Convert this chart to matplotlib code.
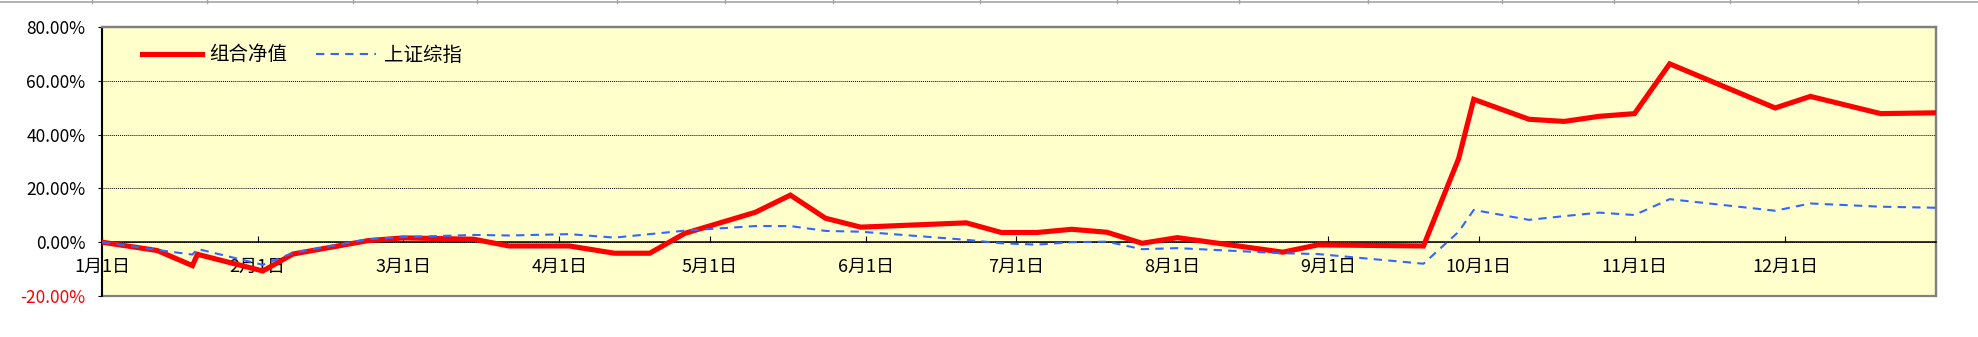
import matplotlib
matplotlib.use("Agg")
from matplotlib import pyplot as plt
from matplotlib.lines import Line2D
from matplotlib.patches import Rectangle
import matplotlib.dates as mdates
import matplotlib.ticker as mticker
import pandas as pd

plt.rcParams['font.family'] = ['Noto Sans CJK SC', 'DejaVu Sans']

# weekly observations, 2024 (percent return since start of year)
dates = ['2024-01-01', '2024-01-12', '2024-01-19', '2024-01-20', '2024-02-02',
         '2024-02-08', '2024-02-23', '2024-03-01', '2024-03-15', '2024-03-22',
         '2024-04-03', '2024-04-12', '2024-04-19', '2024-04-26', '2024-05-10',
         '2024-05-17', '2024-05-24', '2024-05-31', '2024-06-21', '2024-06-28',
         '2024-07-05', '2024-07-12', '2024-07-19', '2024-07-26', '2024-08-02',
         '2024-08-23', '2024-08-30', '2024-09-20', '2024-09-27', '2024-09-30',
         '2024-10-11', '2024-10-18', '2024-10-25', '2024-11-01', '2024-11-08',
         '2024-11-29', '2024-12-06', '2024-12-20', '2024-12-31']
portfolio = [0.0, -3.1, -8.7, -4.5, -10.7,
             -4.4, 0.6, 1.6, 1.1, -1.4,
             -1.4, -4.1, -4.1, 3.3, 11.1,
             17.5, 8.9, 5.6, 7.2, 3.6,
             3.6, 4.8, 3.7, -0.4, 1.7,
             -3.7, -1.0, -1.4, 31.1, 53.1,
             45.7, 44.9, 46.8, 47.8, 66.3,
             49.9, 54.2, 47.8, 48.1]
sse = [0.0, -2.9, -4.6, -2.5, -8.4,
       -4.0, 1.1, 1.9, 2.7, 2.5,
       3.0, 1.7, 3.0, 4.3, 6.0,
       6.0, 4.2, 3.9, 0.9, -0.4,
       -0.9, 0.0, 0.2, -2.6, -2.2,
       -4.1, -4.4, -8.0, 3.9, 12.0,
       8.3, 9.7, 11.0, 10.1, 16.0,
       11.7, 14.4, 13.2, 12.8]
labels = ['组合净值', '上证综指']
yticks = [-20, 0, 20, 40, 60, 80]

x = pd.to_datetime(dates)

W, H = 1978, 337
fig = plt.figure(figsize=(W / 100, H / 100), dpi=100)
ax = fig.add_axes([102 / W, 1 - 296 / H, 1834 / W, 269 / H])
ax.set_facecolor('#FFFFCC')

ax.plot(x, portfolio, color='#FF0000', lw=3.7, label=labels[0], zorder=3,
        solid_joinstyle='miter')
ax.plot(x, sse, color='#3366FF', lw=1.5, dashes=(4, 3), label=labels[1], zorder=4)

ax.set_xlim(pd.Timestamp('2024-01-01'), pd.Timestamp('2024-12-31'))
ax.set_ylim(-20, 80)
ax.set_yticks(yticks)
ax.yaxis.set_major_formatter(mticker.FuncFormatter(lambda v, p: f'{v:.2f}%'))
ax.xaxis.set_major_locator(mdates.MonthLocator())
ax.xaxis.set_major_formatter(mticker.FuncFormatter(
    lambda v, p: f'{mdates.num2date(v).month}月1日'))

ax.grid(axis='y', color='black', linestyle=(0, (1, 1)), lw=0.7)
ax.set_axisbelow(True)

ax.spines['bottom'].set_position(('data', 0))
ax.spines['bottom'].set_color('black')
ax.spines['bottom'].set_linewidth(1.1)
ax.spines['left'].set_color('black')
ax.spines['left'].set_linewidth(1.4)
for s in ['top', 'right']:
    ax.spines[s].set_color('#808080')
    ax.spines[s].set_linewidth(1.6)
ax.add_patch(Rectangle((0, 0), 1, 1, transform=ax.transAxes, fill=False,
                       edgecolor='#808080', lw=1.6, clip_on=False, zorder=1))

ax.tick_params(axis='x', direction='in', length=4.5, width=0.8, pad=11.5,
               labelsize=13, colors='black')
ax.tick_params(axis='y', direction='out', length=3, width=0.8, pad=9,
               labelsize=12.5)
for lbl, v in zip(ax.get_yticklabels(), yticks):
    if v < 0:
        lbl.set_color('#FF0000')

ax.legend(loc='center left', bbox_to_anchor=(0.0216, 0.896), ncol=2,
          frameon=False, fontsize=14, handlelength=3.1, handletextpad=0.4,
          columnspacing=1.45, borderpad=0, borderaxespad=0)

# spreadsheet cell border residue along the top edge
fig.add_artist(Line2D([0, 1], [1 - 1.5 / H] * 2, color='#A6A6A6', lw=1.2))
for px in [92, 207, 353, 477, 617, 725, 833, 980, 1117, 1239, 1368, 1502,
           1614, 1730, 1858]:
    fig.add_artist(Line2D([px / W] * 2, [1, 1 - 3 / H], color='#A6A6A6', lw=1))

fig.savefig('out.png', dpi=100)
